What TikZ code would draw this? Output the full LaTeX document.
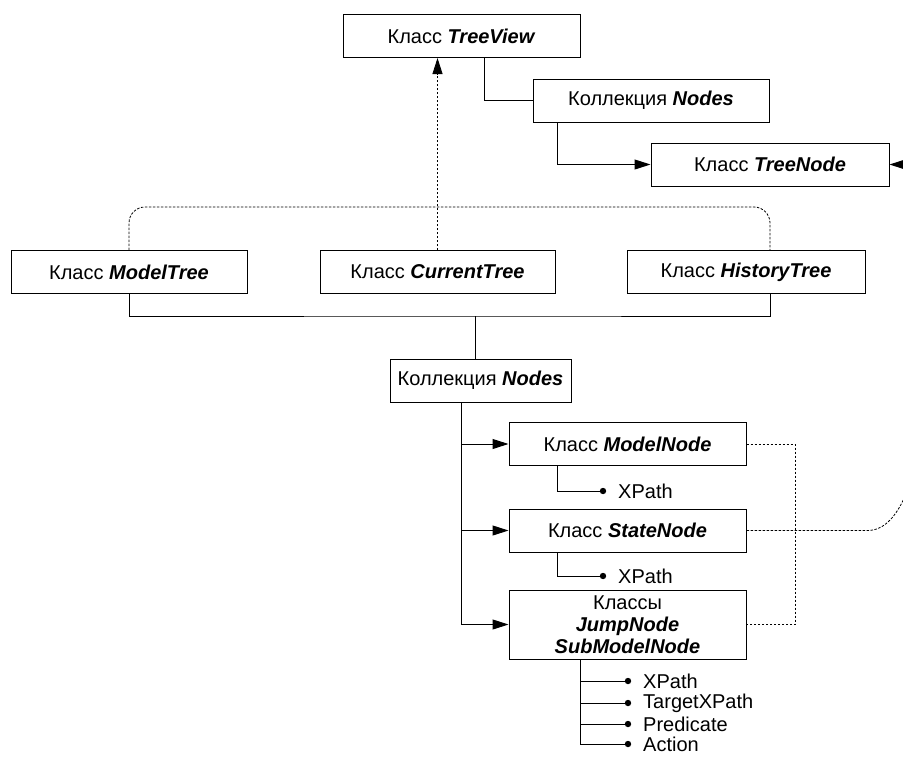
\documentclass[tikz,border=0pt]{standalone}
\usepackage{fontspec}
\setmainfont{Liberation Sans}
\usetikzlibrary{arrows.meta,positioning}

\begin{document}
\begin{tikzpicture}[x=1pt,y=-1pt]
        \tikzstyle{every node}+=[font=\fontsize{20}{22}\selectfont]
        \tikzstyle{box}=[draw, line width=1pt, inner sep=0pt, minimum height=43pt]
        \tikzstyle{prop}=[inner sep=0pt]
        \tikzstyle{ln}=[line width=1pt]
        \tikzstyle{dsh}=[line width=0.8pt, dash pattern=on 2.5pt off 1.5pt]
        \tikzstyle{arr}=[-{Triangle[length=16pt,width=10pt]}]
        \useasboundingbox (0,0) rectangle (903,756);
        \node [box, minimum width=237pt] (treeview) at (461.5,36) {Класс \textbf{\textit{TreeView}}};
        \node [box, minimum width=236pt] (coltop) at (651,100.5) {Коллекция \textbf{\textit{Nodes}}};
        \node [box, minimum width=238pt] (treenode) at (770,164.5) {Класс \textbf{\textit{TreeNode}}};
        \node [box, minimum width=236pt] (modeltree) at (129,272) {Класс \textbf{\textit{ModelTree}}};
        \node [box, minimum width=235pt] (currenttree) at (437.5,272) {Класс \textbf{\textit{CurrentTree}}};
        \node [box, minimum width=238pt] (historytree) at (746,272) {Класс \textbf{\textit{HistoryTree}}};
        \node [box, minimum width=181pt] (colmid) at (480.5,380.5) {Коллекция \textbf{\textit{Nodes}}};
        \node [box, minimum width=237pt] (modelnode) at (627.5,444) {Класс \textbf{\textit{ModelNode}}};
        \node [box, minimum width=237pt] (statenode) at (627.5,530.5) {Класс \textbf{\textit{StateNode}}};
        \node [box, minimum width=237pt, minimum height=69pt, align=center] (jumpnode) at (627.5,624.5) {Классы\\ \textbf{\textit{JumpNode}}\\ \textbf{\textit{SubModelNode}}};
        \draw [ln] ([xshift=22.5pt]treeview.south) |- (coltop.west);
        \draw [ln, arr] ([xshift=-94pt]coltop.south) |- (treenode.west);
        \coordinate (rightA) at (903,164.5);
        \draw [ln, arr] (rightA) -- (treenode.east);
        \draw [dsh, arr] (currenttree.north) -- (currenttree.north |- treeview.south);
        \draw [dsh, rounded corners=16pt] (modeltree.north) |- (437.5,207) -| ([xshift=24pt]historytree.north);
        \coordinate (bus) at (475,316);
        \draw [ln] (modeltree.south) |- (bus) -| ([xshift=24pt]historytree.south);
        \draw [ln] (bus) -- (bus |- colmid.north);
        \coordinate (trunk) at ([xshift=-19.5pt]colmid.south);
        \draw [ln] (trunk) -- (trunk |- jumpnode.west);
        \foreach \n in {modelnode,statenode,jumpnode}
            \draw [ln, arr] (trunk |- \n.west) -- (\n.west);
        \coordinate (mdot) at (603,491);
        \draw [ln] ([xshift=-70.5pt]modelnode.south) |- (mdot);
        \fill (mdot) circle (3.2pt);
        \node [prop, right=15pt of mdot] (mxpath) {XPath};
        \coordinate (sdot) at (603,576);
        \draw [ln] ([xshift=-70.5pt]statenode.south) |- (sdot);
        \fill (sdot) circle (3.2pt);
        \node [prop, right=15pt of sdot] (sxpath) {XPath};
        \coordinate (jtrunk) at ([xshift=-47.5pt]jumpnode.south);
        \foreach \y/\t [count=\i] in {681/XPath,703/TargetXPath,724/Predicate,744/Action} {
            \coordinate (jdot\i) at (628,\y);
            \draw [ln] (jtrunk) |- (jdot\i);
            \fill (jdot\i) circle (3.2pt);
            \node [prop, right=15pt of jdot\i] (jprop\i) {\t};
        }
        \coordinate (dv) at (795,0);
        \draw [dsh] (modelnode.east) -| (dv |- jumpnode.east) -- (jumpnode.east);
        \coordinate (offB) at (906,494);
        \draw [dsh] (statenode.east) -- ++(121,0) .. controls (885,530.5) and (897,515) .. (offB);
    \end{tikzpicture}
\end{document}
